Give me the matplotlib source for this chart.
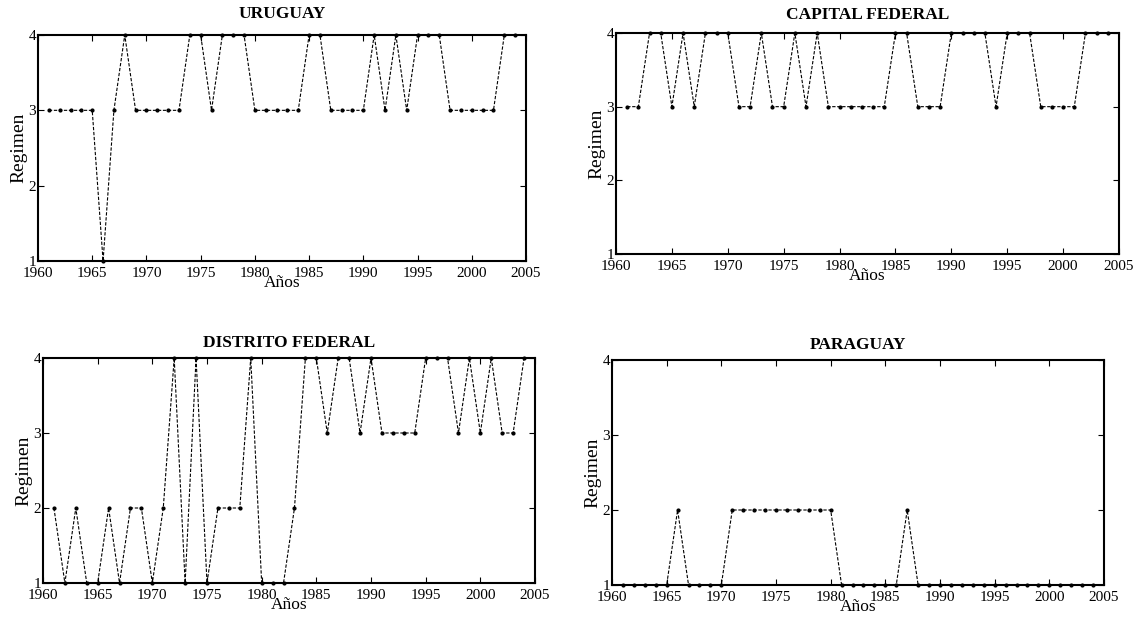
import numpy as np
import matplotlib
matplotlib.use('Agg')
import matplotlib.pyplot as plt

# datos: régimen por año
years = list(range(1961, 2005))

uruguay = [3, 3, 3, 3, 3, 1, 3, 4, 3, 3, 3, 3, 3, 4, 4, 3, 4, 4, 4, 3,
           3, 3, 3, 3, 4, 4, 3, 3, 3, 3, 4, 3, 4, 3, 4, 4, 4, 3, 3, 3,
           3, 3, 4, 4]
capital_federal = [3, 3, 4, 4, 3, 4, 3, 4, 4, 4, 3, 3, 4, 3, 3, 4, 3, 4, 3, 3,
                   3, 3, 3, 3, 4, 4, 3, 3, 3, 4, 4, 4, 4, 3, 4, 4, 4, 3, 3, 3,
                   3, 4, 4, 4]
distrito_federal = [2, 1, 2, 1, 1, 2, 1, 2, 2, 1, 2, 4, 1, 4, 1, 2, 2, 2, 4, 1,
                    1, 1, 2, 4, 4, 3, 4, 4, 3, 4, 3, 3, 3, 3, 4, 4, 4, 3, 4, 3,
                    4, 3, 3, 4]
paraguay = [1, 1, 1, 1, 1, 2, 1, 1, 1, 1, 2, 2, 2, 2, 2, 2, 2, 2, 2, 2,
            1, 1, 1, 1, 1, 1, 2, 1, 1, 1, 1, 1, 1, 1, 1, 1, 1, 1, 1, 1,
            1, 1, 1, 1]

titles = ['URUGUAY', 'CAPITAL FEDERAL', 'DISTRITO FEDERAL', 'PARAGUAY']
series = [uruguay, capital_federal, distrito_federal, paraguay]
xticks = [1960, 1965, 1970, 1975, 1980, 1985, 1990, 1995, 2000, 2005]
yticks = [1, 2, 3, 4]

plt.rcParams['font.family'] = ['Liberation Serif', 'DejaVu Serif']

W, H = 1138, 619
fig = plt.figure(figsize=(W / 100, H / 100), dpi=100)

# posiciones en pixeles (izq, arriba, der, abajo) y separación del título
boxes = [(38, 35, 526, 261), (616, 33, 1119, 254),
         (43, 358, 535, 583), (612, 360, 1104, 585)]
title_pads = [12, 10, 8, 8]

for (l, t, r, b), title, vals, tp in zip(boxes, titles, series, title_pads):
    ax = fig.add_axes([l / W, 1 - b / H, (r - l) / W, (b - t) / H])
    ax.plot(years, vals, color='black', linestyle='--', linewidth=0.8,
            dashes=(3, 1.5), marker='.', markersize=4, clip_on=False)
    ax.set_xlim(1960, 2005)
    ax.set_ylim(1, 4)
    ax.set_xticks(xticks)
    ax.set_yticks(yticks)
    ax.tick_params(direction='in', length=4, width=0.8, labelsize=11,
                   top=True, right=True)
    ax.tick_params(axis='x', pad=4)
    ax.tick_params(axis='y', pad=1.5)
    for s in ax.spines.values():
        s.set_linewidth(1.5)
    ax.set_title(title, fontsize=12.5, fontweight='bold', pad=tp)
    ax.set_xlabel('Años', fontsize=12.5, labelpad=-3)
    ax.set_ylabel('Regimen', fontsize=14, labelpad=1)

plt.savefig('out.png', dpi=100)
